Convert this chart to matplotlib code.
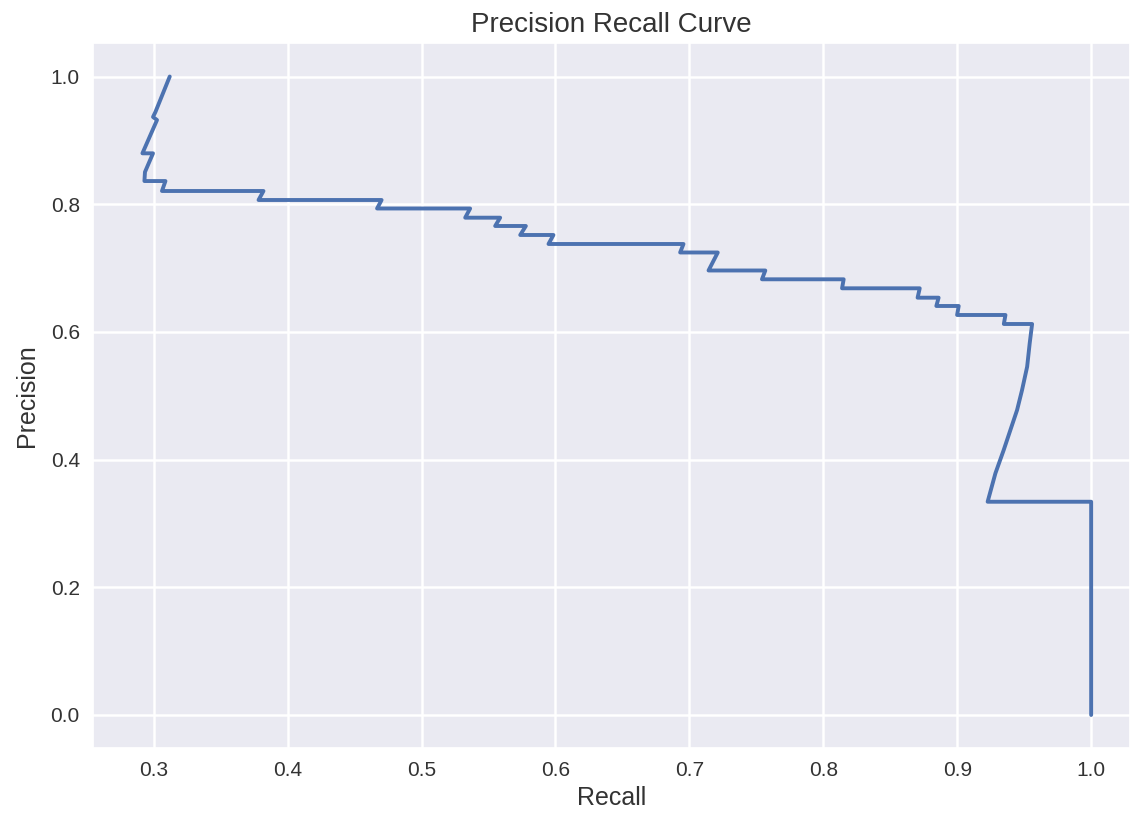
import matplotlib
matplotlib.use("Agg")
import matplotlib.pyplot as plt
import seaborn as sns

# Precision/recall pairs (in drawing order)
recall = [0.312, 0.3013, 0.2995, 0.3025, 0.2916, 0.2995, 0.2935, 0.2931,
          0.3088, 0.3062, 0.3820, 0.3783, 0.4702, 0.4668, 0.5363, 0.5326,
          0.5587, 0.5550, 0.5779, 0.5737, 0.5985, 0.5948, 0.6956, 0.6931,
          0.7212, 0.7143, 0.7567, 0.7542, 0.8152, 0.8140, 0.8720, 0.8704,
          0.8861, 0.8844, 0.9011, 0.8999, 0.9360, 0.9348, 0.9559, 0.9541,
          0.9522, 0.9484, 0.9447, 0.9397, 0.9347, 0.9285, 0.9227, 1.0, 1.0]
precision = [1.0, 0.9444, 0.9366, 0.9319, 0.8797, 0.8797, 0.8504, 0.8363,
             0.8363, 0.8207, 0.8207, 0.8066, 0.8066, 0.7933, 0.7933, 0.7789,
             0.7789, 0.7659, 0.7659, 0.7518, 0.7518, 0.7377, 0.7377, 0.7244,
             0.7244, 0.6962, 0.6962, 0.6824, 0.6824, 0.6683, 0.6683, 0.6536,
             0.6536, 0.6406, 0.6406, 0.6265, 0.6265, 0.6124, 0.6124, 0.5821,
             0.5455, 0.5090, 0.4777, 0.4464, 0.4150, 0.3785, 0.3340, 0.3340,
             0.0]

sns.set_theme(style="darkgrid")
plt.rcParams["font.family"] = ["Liberation Sans", "DejaVu Sans"]

TXT = "#333333"

fig = plt.figure(figsize=(11.3, 8.17), dpi=100)
ax = fig.add_axes([93 / 1130, 69 / 817, 1 - 93 / 1130, 705 / 817])
ax.plot(recall, precision, color="#4C72B0", lw=2.8)

ax.set_xlim(0.2547, 1.029)
ax.set_ylim(-0.0517, 1.0525)
ax.set_xticks([0.3, 0.4, 0.5, 0.6, 0.7, 0.8, 0.9, 1.0])
ax.set_yticks([0.0, 0.2, 0.4, 0.6, 0.8, 1.0])
ax.tick_params(labelsize=15, colors=TXT)
ax.grid(lw=1.8)
ax.set_xlabel("Recall", fontsize=18, color=TXT, labelpad=4)
ax.set_ylabel("Precision", fontsize=18, color=TXT, labelpad=8)
ax.set_title("Precision Recall Curve", fontsize=20, color=TXT, pad=8)

fig.savefig("out.png", dpi=100)
